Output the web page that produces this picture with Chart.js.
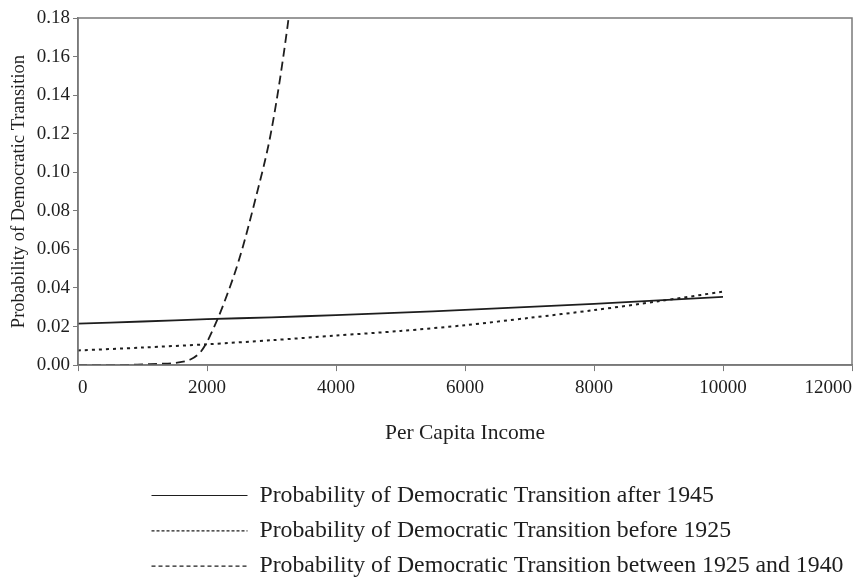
<!DOCTYPE html>
<html>
<head>
<meta charset="utf-8">
<script src="https://cdn.jsdelivr.net/npm/chart.js@4.4.1/dist/chart.umd.min.js"></script>
<style>
  html, body { margin: 0; padding: 0; background: #fff; }
</style>
</head>
<body>
<canvas id="transitionChart" width="868" height="577"></canvas>
<script>
// Probability of democratic transition by per capita income

// Data sets
const incomeSteps = [0, 1000, 2000, 3000, 4000, 5000, 6000, 7000, 8000, 9000, 10000];
const probAfter1945 = [0.0215, 0.0226, 0.0238, 0.0248, 0.0259, 0.0272, 0.0286, 0.0302, 0.0318, 0.0336, 0.0354];
const probBefore1925 = [0.0076, 0.0091, 0.0108, 0.0129, 0.0153, 0.0177, 0.0207, 0.0245, 0.0285, 0.0331, 0.0381];

const incomeSteep = [0, 500, 800, 1000, 1250, 1500, 1750, 1900, 2000, 2100, 2250, 2500, 2750, 3000, 3250, 3300];
const probBetween1925and1940 = [0, 0, 0.0001, 0.0004, 0.0007, 0.0011, 0.003, 0.0068, 0.012, 0.019, 0.031, 0.055, 0.086, 0.122, 0.176, 0.19];

const serif = "'Liberation Serif', 'Times New Roman', serif";
const ink = "#1e1e1e";
const frame = "#7a7a7a";

const toPoints = (xs, ys) => xs.map((x, i) => ({ x: x, y: ys[i] }));

// the legend samples use finer dashes than the plotted lines
const legendDash = [[], [3, 2], [4, 3]];

// box round the plot area, legend moved under the plot
const frameAndLegend = {
  id: "frameAndLegend",
  afterLayout(chart) {
    const lg = chart.legend;
    lg.left += 140; lg.right += 140;
    lg.top += 11; lg.bottom += 11;
  },
  afterDatasetsDraw(chart) {
    const a = chart.chartArea, ctx = chart.ctx;
    ctx.save();
    ctx.strokeStyle = frame;
    ctx.lineWidth = 1.5;
    ctx.strokeRect(a.left, a.top, a.right - a.left, a.bottom - a.top);
    ctx.restore();
  }
};

new Chart(document.getElementById("transitionChart"), {
  type: "line",
  data: {
    datasets: [{
      label: "Probability of Democratic Transition after 1945",
      data: toPoints(incomeSteps, probAfter1945),
      borderColor: ink,
      borderWidth: 1.8,
      pointRadius: 0,
      tension: 0.3
    }, {
      label: "Probability of Democratic Transition before 1925",
      data: toPoints(incomeSteps, probBefore1925),
      borderColor: ink,
      borderWidth: 2,
      borderDash: [3, 4],
      pointRadius: 0,
      tension: 0.3
    }, {
      label: "Probability of Democratic Transition between 1925 and 1940",
      data: toPoints(incomeSteep, probBetween1925and1940),
      borderColor: ink,
      borderWidth: 1.8,
      borderDash: [9, 5],
      pointRadius: 0,
      cubicInterpolationMode: "monotone"
    }]
  },
  options: {
    responsive: false,
    animation: false,
    layout: { padding: { top: 18, right: 16, left: 0, bottom: 0 } },
    scales: {
      x: {
        type: "linear",
        min: 0,
        max: 12000,
        afterFit: s => { s.height = 96; },
        ticks: {
          stepSize: 2000,
          align: "inner",
          padding: 6,
          color: ink,
          font: { family: serif, size: 19 },
          callback: v => String(v)
        },
        grid: { drawOnChartArea: false, tickLength: 6, color: frame },
        border: { color: frame, width: 1.5 },
        title: {
          display: true,
          text: "Per Capita Income",
          color: ink,
          font: { family: serif, size: 21.5 },
          padding: { top: 0, bottom: 15 }
        }
      },
      y: {
        min: 0,
        max: 0.18,
        afterFit: s => { s.width = 78; },
        ticks: {
          stepSize: 0.02,
          padding: 3,
          color: ink,
          font: { family: serif, size: 19 },
          callback: v => v.toFixed(2)
        },
        grid: { drawOnChartArea: false, tickLength: 5, color: frame },
        border: { color: frame, width: 1.5 },
        title: {
          display: true,
          text: "Probability of Democratic Transition",
          color: ink,
          font: { family: serif, size: 18.5 },
          padding: { top: 8, bottom: 0 }
        }
      }
    },
    plugins: {
      tooltip: { enabled: false },
      legend: {
        position: "bottom",
        align: "start",
        labels: {
          usePointStyle: true,
          pointStyle: "line",
          pointStyleWidth: 96,
          padding: 11.5,
          color: ink,
          font: { family: serif, size: 23.8 },
          generateLabels(chart) {
            const items = Chart.defaults.plugins.legend.labels.generateLabels(chart);
            items.forEach((it, i) => {
              it.lineDash = legendDash[i];
              it.lineWidth = 1.2;
              it.pointStyle = "line";
            });
            return items;
          }
        }
      }
    }
  },
  plugins: [frameAndLegend]
});
</script>
</body>
</html>
